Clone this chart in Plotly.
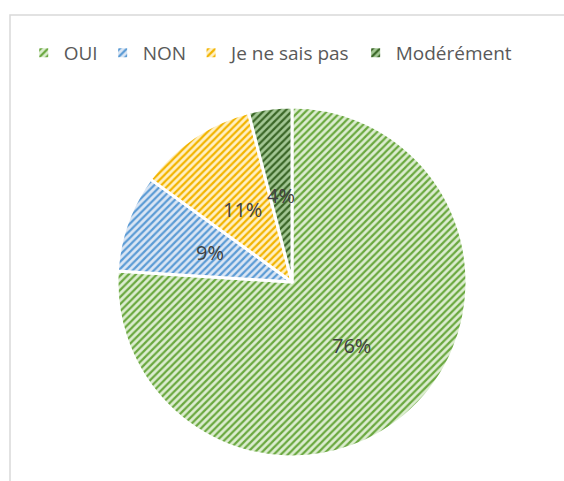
import math
import plotly.graph_objects as go

labels = ["OUI", "NON", "Je ne sais pas", "Modérément"]
values = [76, 9, 11, 4]
stripe_colors = ["#6aa83f", "#5b9bd5", "#f2b400", "#3a6627"]
back_colors = ["#dcedd0", "#dbe6f4", "#fff0c4", "#a3c794"]

W, H = 564, 481
cx, cy, r = 292, 282, 175
font_family = "Open Sans, Liberation Sans, sans-serif"

fig = go.Figure(go.Pie(
    labels=labels,
    values=values,
    sort=False,
    direction="clockwise",
    rotation=0,
    textinfo="none",
    marker=dict(
        colors=back_colors,
        line=dict(color="white", width=3),
        pattern=dict(shape="/", fgcolor=stripe_colors, bgcolor=back_colors,
                     size=5, solidity=0.45, fillmode="replace"),
    ),
    domain=dict(x=[(cx - r) / W, (cx + r) / W], y=[(H - cy - r) / H, (H - cy + r) / H]),
    hoverinfo="label+percent",
))

# percentage labels placed at half radius along each slice's middle angle
total = sum(values)
annotations = []
cum = 0
for v in values:
    mid = (cum + v / 2) / total * 2 * math.pi
    cum += v
    rr = 0.5 * r
    px = cx + rr * math.sin(mid)
    py = cy - rr * math.cos(mid)
    annotations.append(dict(
        x=px / W, y=(H - py) / H, xref="paper", yref="paper",
        text=f"{round(v / total * 100)}%", showarrow=False,
        font=dict(family=font_family, size=20, color="#404040"),
        xanchor="center", yanchor="middle",
    ))

fig.update_layout(
    width=W, height=H,
    margin=dict(l=0, r=0, t=0, b=0),
    paper_bgcolor="white",
    showlegend=True,
    legend=dict(orientation="h", x=0.48, xanchor="center", y=(H - 53) / H, yanchor="middle",
                font=dict(family=font_family, size=19, color="#595959"),
                itemwidth=30, traceorder="normal"),
    annotations=annotations,
    shapes=[dict(type="rect", xref="paper", yref="paper",
                 x0=10 / W, x1=1.2, y0=-0.2, y1=(H - 15) / H,
                 line=dict(color="#d9d9d9", width=1.5), layer="below")],
)

fig.write_html("out.html")
